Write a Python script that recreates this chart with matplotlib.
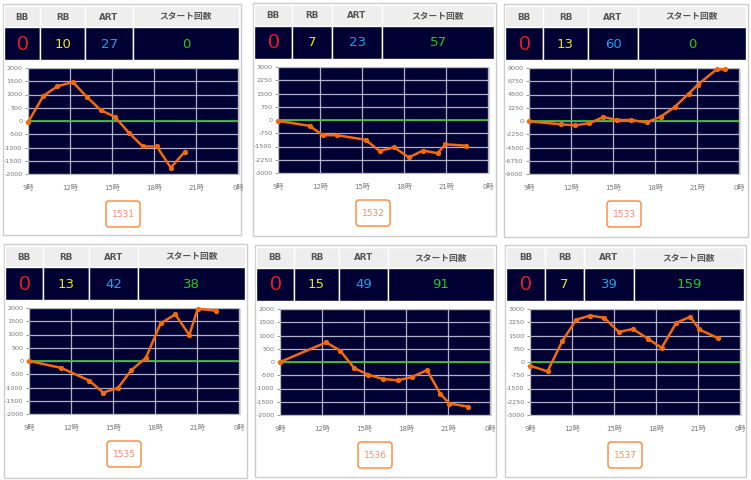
import numpy as np
import matplotlib
matplotlib.use("Agg")
import matplotlib.pyplot as plt
from matplotlib.patches import Rectangle, FancyBboxPatch

plt.rcParams['font.family'] = ['DejaVu Sans', 'Noto Sans CJK JP']

# --- data -----------------------------------------------------------------
machines = ["1531", "1532", "1533", "1535", "1536", "1537"]
bb_counts = [0, 0, 0, 0, 0, 0]
rb_counts = [10, 7, 13, 13, 15, 7]
art_counts = [27, 23, 60, 42, 49, 39]
start_counts = [0, 57, 0, 38, 91, 159]

header_labels = ["BB", "RB", "ART", "スタート回数"]
hour_ticks = [9, 12, 15, 18, 21, 24]
hour_labels = ["9時", "12時", "15時", "18時", "21時", "0時"]

y_limits = [2000, 3000, 9000, 2000, 2000, 3000]
y_steps = [500, 750, 2250, 500, 500, 750]

times1 = [9, 10.1, 11.1, 12.2, 13.2, 14.2, 15.2, 16.2, 17.2, 18.2, 19.2, 20.2]
vals1 = [-50, 950, 1310, 1470, 910, 410, 160, -440, -960, -960, -1760, -1160]

times2 = [9, 11.25, 12.2, 13.2, 15.25, 16.25, 17.3, 18.35, 19.35, 20.4, 20.95, 22.4]
vals2 = [-50, -330, -860, -860, -1120, -1750, -1550, -2120, -1730, -1880, -1380, -1450]

times3 = [9, 11.25, 12.3, 13.3, 14.3, 15.3, 16.3, 17.4, 18.4, 19.4, 20.4, 21.05, 22.4, 23.0]
vals3 = [-50, -560, -730, -390, 670, 170, 170, -230, 730, 2350, 4640, 6150, 8780, 8780]

times4 = [9, 11.3, 13.3, 14.3, 15.35, 16.3, 17.35, 18.4, 19.45, 20.45, 21.05, 22.35]
vals4 = [0, -260, -740, -1190, -1020, -350, 120, 1420, 1760, 980, 1970, 1900]

times5 = [9, 12.3, 13.3, 14.3, 15.3, 16.35, 17.4, 18.4, 19.5, 20.45, 21.1, 22.4]
vals5 = [0, 740, 430, -230, -480, -640, -690, -570, -310, -1200, -1570, -1680]

times6 = [9, 10.25, 11.3, 12.3, 13.3, 14.3, 15.35, 16.35, 17.4, 18.4, 19.45, 20.45, 21.1, 22.4]
vals6 = [-210, -530, 1170, 2400, 2630, 2500, 1700, 1870, 1330, 800, 2220, 2560, 1840, 1360]

all_times = [times1, times2, times3, times4, times5, times6]
all_vals = [vals1, vals2, vals3, vals4, vals5, vals6]

# --- layout (pixels) -------------------------------------------------------
W, H = 751, 480
panel_origin = [(3, 4), (253, 3), (504, 4), (4, 244), (255, 245), (505, 245)]
panel_size = [(238, 231), (243, 233), (244, 233), (243, 234), (241, 232), (241, 232)]
col_splits = [(37, 82, 130), (39, 79, 129), (39, 84, 134),
              (39, 85, 134), (39, 84, 133), (40, 79, 129)]

NAVY = "#000033"
value_colors = ["#e8192c", "#e6e619", "#1aa3ec", "#22cc22"]

fig = plt.figure(figsize=(W / 100, H / 100), dpi=100)
bg = fig.add_axes([0, 0, 1, 1])
bg.set_xlim(0, W)
bg.set_ylim(H, 0)
bg.axis("off")


def px_axes(x, y, w, h):
    return fig.add_axes([x / W, 1 - (y + h) / H, w / W, h / H])


for i in range(6):
    x0, y0 = panel_origin[i]
    pw, ph = panel_size[i]
    # outer box
    bg.add_patch(Rectangle((x0, y0), pw, ph, fc="white", ec="#cccccc", lw=1))

    # header table
    splits = [1] + list(col_splits[i]) + [pw - 2]
    vals = [bb_counts[i], rb_counts[i], art_counts[i], start_counts[i]]
    for c in range(4):
        cx, cw = x0 + splits[c], splits[c + 1] - splits[c]
        bg.add_patch(Rectangle((cx, y0 + 2), cw, 21, fc="#eeeeee", ec="white", lw=1))
        bg.add_patch(Rectangle((cx, y0 + 23), cw, 33, fc=NAVY, ec="white", lw=1))
        bg.text(cx + cw / 2, y0 + 13, header_labels[c], ha="center", va="center",
                fontsize=6.3, fontweight="bold", color="#555555")
        if c == 0:
            bg.text(cx + cw / 2, y0 + 40, str(vals[c]), ha="center", va="center",
                    fontsize=15, color=value_colors[c], family="Liberation Sans")
        else:
            bg.text(cx + cw / 2, y0 + 40, str(vals[c]), ha="center", va="center",
                    fontsize=9.5, color=value_colors[c])

    # plot shadow
    bg.add_patch(Rectangle((x0 + 27, y0 + 65), 210, 106, fc="#d8d8d8", ec="none"))

    # button
    bg.add_patch(FancyBboxPatch((x0 + 103, y0 + 197), 34, 26,
                                boxstyle="round,pad=0,rounding_size=3",
                                fc="white", ec="#ff8533", lw=1))
    bg.text(x0 + 120, y0 + 210.5, machines[i], ha="center", va="center",
            fontsize=6.5, color="#ff8a65")

    # chart
    ax = px_axes(x0 + 25, y0 + 64, 210, 106)
    ax.set_facecolor(NAVY)
    lim, step = y_limits[i], y_steps[i]
    ax.set_xlim(9, 24)
    ax.set_ylim(-lim, lim)
    ax.set_xticks(hour_ticks)
    ax.set_xticklabels(hour_labels)
    yt = np.arange(-lim, lim + 1, step)
    ax.set_yticks(yt)
    ax.set_yticklabels([str(int(v)) for v in yt])
    ax.tick_params(axis="both", labelsize=4.6, colors="#888888", length=2, width=0.6)
    ax.tick_params(axis="x", pad=7, length=0, labelsize=5)
    ax.tick_params(axis="y", pad=2)
    for lab in ax.get_xticklabels() + ax.get_yticklabels():
        lab.set_color("#777777")
    ax.grid(True, color="#d0d0e4", lw=0.9, alpha=0.85)
    ax.set_axisbelow(True)
    for s in ax.spines.values():
        s.set_color("#bbbbbb")
        s.set_linewidth(0.8)
    ax.axhline(0, color="#44bb33", lw=1.3, zorder=2)
    ax.plot(all_times[i], all_vals[i], color="#f26a0f", lw=1.8,
            marker="o", ms=2.8, zorder=3, clip_on=False)

fig.savefig("out.png", dpi=100)
